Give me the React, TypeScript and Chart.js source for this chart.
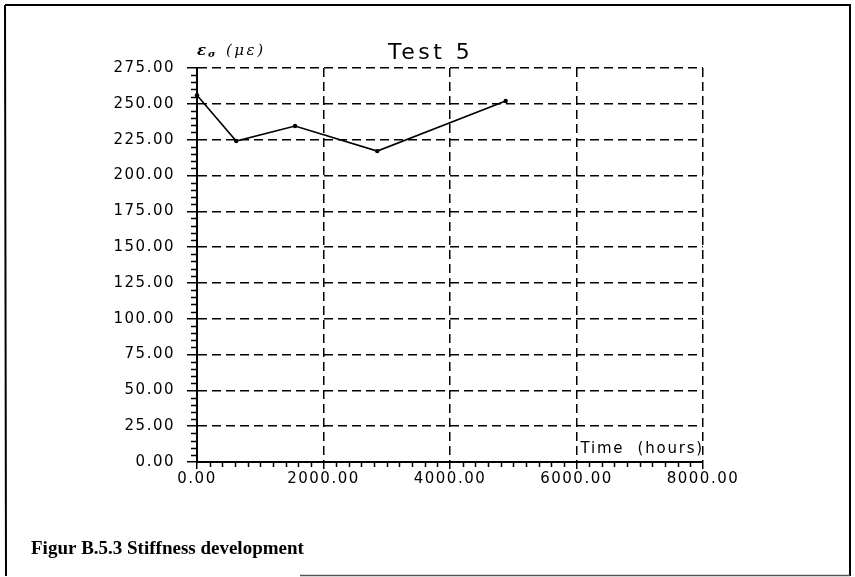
import React, { useEffect, useRef } from 'react';
import { Chart, registerables } from 'chart.js';

Chart.register(...registerables);

// ---- data ----
const timeHours = [0, 620, 1550, 2850, 4880];
const strainValues = [256, 224, 234.5, 217, 252];
const yTickValues = [0, 25, 50, 75, 100, 125, 150, 175, 200, 225, 250, 275];
const xTickValues = [0, 2000, 4000, 6000, 8000];
const yMinorStep = 5;
const xMinorStep = 200;
const chartTitle = 'Test 5';
const xAxisTitle = 'Time  (hours)';
const captionText = 'Figur B.5.3 Stiffness development';

const W = 855;
const H = 577;

const decorPlugin = {
  id: 'decor',
  beforeDraw(chart: any) {
    const ctx = chart.ctx;
    ctx.save();
    ctx.fillStyle = '#ffffff';
    ctx.fillRect(0, 0, chart.width, chart.height);
    ctx.restore();
    ctx.letterSpacing = '1.5px';
  },
  afterDraw(chart: any) {
    const { ctx, chartArea } = chart;
    const xs = chart.scales.x;
    const ys = chart.scales.y;
    ctx.save();
    ctx.strokeStyle = '#000';
    ctx.fillStyle = '#000';
    ctx.lineWidth = 1.5;
    ctx.setLineDash([]);
    // minor ticks on y axis
    ctx.beginPath();
    for (let v = yTickValues[0]; v <= yTickValues[yTickValues.length - 1]; v += yMinorStep) {
      if (yTickValues.includes(v)) continue;
      const py = Math.round(ys.getPixelForValue(v)) + 0.5;
      ctx.moveTo(chartArea.left - 6, py);
      ctx.lineTo(chartArea.left, py);
    }
    // minor ticks on x axis
    for (let v = xTickValues[0]; v <= xTickValues[xTickValues.length - 1]; v += xMinorStep) {
      if (xTickValues.includes(v)) continue;
      const px = Math.round(xs.getPixelForValue(v)) + 0.5;
      ctx.moveTo(px, chartArea.bottom);
      ctx.lineTo(px, chartArea.bottom + 5);
    }
    ctx.stroke();

    // page frame
    ctx.lineWidth = 2;
    ctx.beginPath();
    ctx.moveTo(5, 5);
    ctx.lineTo(850, 5);
    ctx.lineTo(850, 576);
    ctx.moveTo(5, 5);
    ctx.lineTo(6, 576);
    ctx.stroke();
    ctx.strokeStyle = '#555';
    ctx.lineWidth = 1.5;
    ctx.beginPath();
    ctx.moveTo(300, 575.5);
    ctx.lineTo(850, 575.5);
    ctx.stroke();

    // title
    ctx.fillStyle = '#000';
    ctx.textAlign = 'left';
    ctx.textBaseline = 'alphabetic';
    ctx.font = '22px "DejaVu Sans"';
    ctx.letterSpacing = '3.5px';
    ctx.fillText(chartTitle, 388, 59);

    // y axis label  ε_σ (με)
    ctx.letterSpacing = '1px';
    ctx.font = 'italic bold 15px "DejaVu Serif"';
    ctx.fillText('ε', 197, 55);
    ctx.font = 'italic bold 10px "DejaVu Serif"';
    ctx.fillText('σ', 208, 57);
    ctx.font = 'italic 15px "DejaVu Serif"';
    ctx.letterSpacing = '2.5px';
    ctx.fillText('(με)', 226, 55);

    // x axis title inside plot
    ctx.font = '15px "DejaVu Sans"';
    ctx.letterSpacing = '1.8px';
    ctx.textAlign = 'right';
    ctx.fillText(xAxisTitle, chartArea.right + 1, 453);

    // caption
    ctx.letterSpacing = '0px';
    ctx.textAlign = 'left';
    ctx.font = 'bold 19px "Liberation Serif"';
    ctx.fillText(captionText, 31, 554);

    ctx.restore();
    ctx.letterSpacing = '0px';
  },
};

const tickFont = { family: '"DejaVu Sans"', size: 15 };

export default function App() {
  const ref = useRef<HTMLCanvasElement | null>(null);

  useEffect(() => {
    if (!ref.current) return;
    const chart = new Chart(ref.current, {
      type: 'line',
      data: {
        datasets: [
          {
            data: timeHours.map((t, i) => ({ x: t, y: strainValues[i] })),
            borderColor: '#000',
            backgroundColor: '#000',
            borderWidth: 1.6,
            pointRadius: 2.2,
            pointBackgroundColor: '#000',
            pointBorderWidth: 0,
            tension: 0,
            fill: false,
            clip: false as any,
          },
        ],
      },
      options: {
        responsive: false,
        animation: false,
        devicePixelRatio: 1,
        layout: { padding: { top: 68, right: 152, bottom: 0, left: 0 } },
        plugins: {
          legend: { display: false },
          title: { display: false },
          tooltip: { enabled: false },
        },
        scales: {
          x: {
            type: 'linear',
            min: xTickValues[0],
            max: xTickValues[xTickValues.length - 1],
            afterBuildTicks: (s: any) => {
              s.ticks = xTickValues.map((v) => ({ value: v }));
            },
            afterFit: (s: any) => {
              s.height = 115;
            },
            grid: {
              color: '#000',
              lineWidth: 1.5,
              tickLength: 7,
              drawTicks: true,
              tickColor: '#000',
              tickWidth: 1.5,
            },
            border: { display: true, color: '#000', width: 2, dash: [9, 5] },
            ticks: {
              color: '#000',
              padding: 1,
              maxRotation: 0,
              autoSkip: false,
              font: tickFont,
              callback: (v: any) => Number(v).toFixed(2),
            },
          },
          y: {
            type: 'linear',
            min: yTickValues[0],
            max: yTickValues[yTickValues.length - 1],
            afterBuildTicks: (s: any) => {
              s.ticks = yTickValues.map((v) => ({ value: v }));
            },
            afterFit: (s: any) => {
              s.width = 197;
            },
            grid: {
              color: '#000',
              lineWidth: 1.5,
              tickLength: 10,
              drawTicks: true,
              tickColor: '#000',
              tickWidth: 1.5,
            },
            border: { display: true, color: '#000', width: 2, dash: [9, 5] },
            ticks: {
              color: '#000',
              padding: 12,
              autoSkip: false,
              font: tickFont,
              callback: (v: any) => Number(v).toFixed(2),
            },
          },
        },
      },
      plugins: [decorPlugin],
    });
    return () => chart.destroy();
  }, []);

  return (
    <div style={{ position: 'fixed', left: 0, top: 0, width: W, height: H, background: '#fff' }}>
      <canvas ref={ref} width={W} height={H} style={{ display: 'block', width: W, height: H }} />
    </div>
  );
}
